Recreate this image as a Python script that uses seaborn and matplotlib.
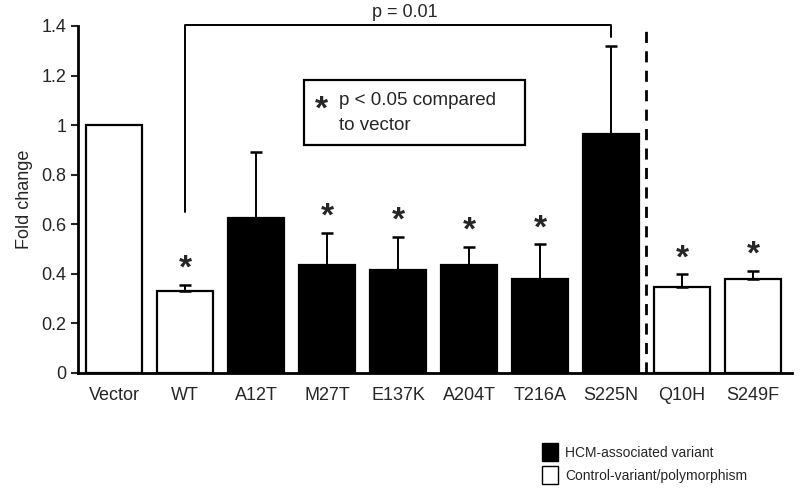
import matplotlib
matplotlib.use("Agg")
import matplotlib.pyplot as plt
import pandas as pd
import seaborn as sns
from matplotlib.patches import Patch, Rectangle

sns.set_theme(style="ticks")
plt.rcParams["font.family"] = ["Liberation Sans", "DejaVu Sans"]

# data
variants = ["Vector", "WT", "A12T", "M27T", "E137K", "A204T", "T216A", "S225N", "Q10H", "S249F"]
fold = [1.0, 0.33, 0.625, 0.435, 0.415, 0.435, 0.38, 0.965, 0.347, 0.38]
err = [0.0, 0.025, 0.265, 0.13, 0.135, 0.075, 0.14, 0.355, 0.052, 0.032]
group = ["Control", "Control", "HCM", "HCM", "HCM", "HCM", "HCM", "HCM", "Control", "Control"]
starred = [False, True, False, True, True, True, True, False, True, True]

df = pd.DataFrame({"variant": variants, "fold": fold, "err": err, "group": group})

fig = plt.figure(figsize=(8, 4.94), dpi=100)
ax = fig.add_axes([0.0975, 0.245, 0.8925, 0.7025])

sns.barplot(data=df, x="variant", y="fold", hue="group", dodge=False,
            palette={"HCM": "black", "Control": "white"}, edgecolor="black",
            linewidth=1.6, width=0.79, legend=False, ax=ax)

has_err = df[df["err"] > 0]
ax.errorbar(has_err.index, has_err["fold"], yerr=[[0] * len(has_err), has_err["err"]],
            fmt="none", ecolor="black", elinewidth=1.4, capsize=4.5, capthick=1.8)

for i, (v, e, s) in enumerate(zip(fold, err, starred)):
    if s:
        ax.text(i, v + e + 0.0, "*", ha="center", va="bottom", fontsize=24, fontweight="bold")

# comparison bracket WT vs S225N
wt, s225 = 1, 7
ax.plot([wt, wt, s225, s225], [0.65, 1.405, 1.405, 1.355], color="black", lw=1.4, clip_on=False)
ax.text(4.1, 1.42, "p = 0.01", ha="center", va="bottom", fontsize=13)

# divider between groups
ax.axvline(7.5, ymin=0, ymax=1.0, color="black", lw=2, ls=(0, (4, 3)))

# annotation box
ax.add_patch(Rectangle((2.68, 0.92), 3.11, 0.26, fill=False, edgecolor="black", lw=1.6))
ax.text(2.92, 1.06, "*", fontsize=24, fontweight="bold", va="center", ha="center")
ax.text(3.17, 1.10, "p < 0.05 compared", fontsize=13.5, va="center")
ax.text(3.17, 0.998, "to vector", fontsize=13.5, va="center")

ax.set_xlim(-0.507, 9.55)
ax.set_ylim(0, 1.4)
ax.set_yticks([0, 0.2, 0.4, 0.6, 0.8, 1.0, 1.2, 1.4])
ax.set_yticklabels(["0", "0.2", "0.4", "0.6", "0.8", "1", "1.2", "1.4"])
ax.set_xlabel("")
ax.set_ylabel("Fold change", fontsize=13, labelpad=6)
ax.tick_params(axis="y", labelsize=13, length=5, width=1.5, direction="out")
ax.tick_params(axis="x", labelsize=13, length=0, pad=10)
sns.despine(ax=ax)
for sp in ("left", "bottom"):
    ax.spines[sp].set_linewidth(2)
    ax.spines[sp].set_color("black")

handles = [Patch(facecolor="black", edgecolor="black", label="HCM-associated variant"),
           Patch(facecolor="white", edgecolor="black", label="Control-variant/polymorphism")]
fig.legend(handles=handles, loc="upper left", bbox_to_anchor=(0.67, 0.115),
           frameon=False, fontsize=10, handlelength=1.2, handleheight=1.7,
           handletextpad=0.5, labelspacing=0.3, borderaxespad=0)

fig.savefig("out.png", dpi=100)
